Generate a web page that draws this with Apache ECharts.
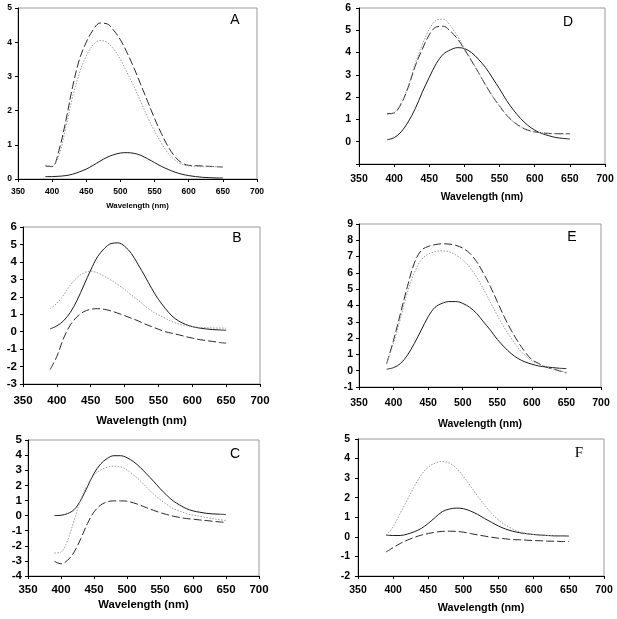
<!DOCTYPE html>
<html><head><meta charset="utf-8">
<script src="https://cdn.jsdelivr.net/npm/echarts@6/dist/echarts.min.js"></script>
<style>html,body{margin:0;padding:0;background:#fff}#c{width:617px;height:619px}</style>
</head><body><div id="c"></div>
<script>
const wavelength = [390,400,410,420,430,440,450,460,470,480,490,500,510,520,530,540,550,560,570,580,590,600,610,620,630,640,650];
const xTicks = [350,400,450,500,550,600,650,700];

const aSolid  = [0.07,0.07,0.08,0.10,0.14,0.21,0.29,0.40,0.52,0.63,0.71,0.76,0.77,0.75,0.69,0.59,0.48,0.37,0.28,0.20,0.14,0.10,0.07,0.05,0.04,0.03,0.03];
const aDashed = [0.38,0.36,0.84,1.70,2.70,3.50,4.00,4.36,4.56,4.54,4.35,4.07,3.68,3.24,2.75,2.26,1.77,1.33,0.94,0.65,0.47,0.40,0.39,0.38,0.37,0.36,0.35];
const aDotted = [0.40,0.38,0.70,1.50,2.40,3.10,3.60,3.92,4.05,4.00,3.80,3.50,3.10,2.70,2.25,1.80,1.40,1.05,0.75,0.55,0.43,0.38,0.37,0.36,0.36,0.36,0.35];

const bSolid  = [0.16,0.33,0.63,1.11,1.81,2.67,3.53,4.29,4.76,5.05,5.09,4.90,4.48,3.85,3.18,2.48,1.85,1.34,0.90,0.61,0.42,0.29,0.21,0.16,0.12,0.10,0.08];
const bDashed = [-2.18,-1.42,-0.37,0.39,0.86,1.15,1.28,1.32,1.28,1.19,1.06,0.92,0.77,0.62,0.44,0.29,0.14,0.00,-0.09,-0.18,-0.28,-0.37,-0.45,-0.51,-0.56,-0.62,-0.66];
const bDotted = [1.32,1.62,2.10,2.67,3.11,3.37,3.47,3.37,3.18,2.95,2.70,2.42,2.10,1.81,1.47,1.19,0.96,0.77,0.58,0.44,0.35,0.29,0.25,0.23,0.21,0.21,0.20];

const cSolid  = [0.00,0.02,0.13,0.40,1.02,1.90,2.79,3.41,3.78,3.96,3.96,3.83,3.56,3.19,2.74,2.28,1.79,1.35,0.97,0.69,0.46,0.31,0.22,0.15,0.11,0.09,0.07];
const cDashed = [-3.03,-3.19,-2.96,-2.41,-1.53,-0.53,0.24,0.69,0.91,0.97,0.97,0.95,0.84,0.69,0.51,0.35,0.20,0.07,-0.04,-0.13,-0.20,-0.24,-0.29,-0.33,-0.38,-0.42,-0.46];
const cDotted = [-2.48,-2.41,-1.64,-0.31,1.06,2.01,2.68,3.01,3.19,3.27,3.23,3.01,2.68,2.30,1.86,1.42,1.06,0.75,0.46,0.29,0.13,0.02,-0.04,-0.13,-0.20,-0.27,-0.33];

const dSolid  = [0.09,0.18,0.44,0.89,1.48,2.22,2.89,3.51,3.93,4.12,4.22,4.18,4.00,3.70,3.33,2.86,2.37,1.85,1.41,1.04,0.74,0.52,0.37,0.27,0.19,0.15,0.12];
const dDashed = [1.26,1.29,1.70,2.44,3.40,4.15,4.80,5.15,5.18,4.96,4.62,4.15,3.63,3.10,2.55,2.04,1.60,1.19,0.89,0.67,0.52,0.44,0.40,0.37,0.36,0.36,0.36];
const dDotted = [1.22,1.30,1.75,2.50,3.50,4.35,5.05,5.45,5.50,5.20,4.75,4.20,3.65,3.10,2.55,2.04,1.60,1.19,0.89,0.67,0.52,0.44,0.40,0.37,0.36,0.35,0.35];

const eSolid  = [0.09,0.19,0.44,0.95,1.67,2.49,3.31,3.89,4.13,4.24,4.24,4.13,3.89,3.52,3.00,2.49,1.92,1.46,1.05,0.75,0.54,0.40,0.29,0.23,0.19,0.15,0.13];
const eDashed = [0.44,1.87,3.52,5.16,6.60,7.38,7.62,7.73,7.79,7.77,7.69,7.52,7.21,6.70,5.98,5.16,4.24,3.31,2.49,1.77,1.16,0.68,0.44,0.23,0.11,-0.01,-0.14];
const eDotted = [0.40,1.70,3.20,4.80,6.00,6.80,7.15,7.30,7.35,7.30,7.10,6.80,6.35,5.75,5.00,4.20,3.40,2.65,2.00,1.40,0.95,0.60,0.42,0.25,0.10,0.00,-0.10];

const fSolid  = [0.09,0.07,0.07,0.14,0.26,0.43,0.69,1.00,1.29,1.42,1.47,1.44,1.32,1.15,0.94,0.74,0.55,0.40,0.29,0.21,0.16,0.12,0.09,0.07,0.05,0.05,0.04];
const fDashed = [-0.77,-0.55,-0.34,-0.17,-0.03,0.09,0.17,0.24,0.28,0.29,0.28,0.24,0.17,0.10,0.04,-0.02,-0.07,-0.10,-0.14,-0.15,-0.17,-0.19,-0.20,-0.22,-0.22,-0.24,-0.24];
const fDotted = [0.09,0.51,1.20,1.88,2.57,3.17,3.56,3.77,3.85,3.77,3.51,3.08,2.60,2.09,1.63,1.20,0.86,0.60,0.40,0.26,0.17,0.12,0.09,0.07,0.05,0.05,0.04];

const xName = 'Wavelength (nm)';
const panelLetters = ['A','B','C','D','E','F'];

const panels = [
  {letter:'A', g:{left:18, top:8, width:239, height:171}, ymin:0, ymax:5, fs:8.5, nfs:7.8, ngap:23, xm:8, ym:6, lx:235, ly:20, lfs:14, serif:false, s:[aSolid,aDashed,aDotted], hideMin:false},
  {letter:'B', g:{left:23, top:227, width:237, height:157}, ymin:-3, ymax:6, fs:11.5, nfs:11.3, ngap:31, xm:11, ym:6, lx:237, ly:238, lfs:14, serif:false, s:[bSolid,bDashed,bDotted], hideMin:false},
  {letter:'C', g:{left:28, top:440, width:231, height:136}, ymin:-4, ymax:5, fs:11.5, nfs:11.3, ngap:23, xm:8, ym:6, lx:235, ly:454, lfs:14, serif:false, s:[cSolid,cDashed,cDotted], hideMin:false},
  {letter:'D', g:{left:359, top:8, width:246, height:156}, ymin:-1, ymax:6, fs:10.5, nfs:10.3, ngap:28, xm:10, ym:8, lx:568, ly:22, lfs:14, serif:false, s:[dSolid,dDashed,dDotted], hideMin:true},
  {letter:'E', g:{left:359, top:224, width:242, height:163}, ymin:-1, ymax:9, fs:10.5, nfs:10.5, ngap:32, xm:11, ym:6, lx:572, ly:237, lfs:14, serif:false, s:[eSolid,eDashed,eDotted], hideMin:false},
  {letter:'F', g:{left:358, top:439, width:246, height:137}, ymin:-2, ymax:5, fs:10.5, nfs:10.8, ngap:27, xm:9, ym:8, lx:579, ly:453, lfs:15, serif:true, s:[fSolid,fDashed,fDotted], hideMin:false}
];

const FONT = '"Liberation Sans", Arial, sans-serif';
const grids = [], xAxes = [], yAxes = [], series = [], graphics = [];
const styles = [
  {color:'#1a1a1a', type:'solid', width:1},
  {color:'#2a2a2a', type:[8,3], width:1},
  {color:'#9a9a9a', type:[1.5,1.5], width:1}
];
panels.forEach((p, i) => {
  grids.push(Object.assign({show:true, borderColor:'#999', borderWidth:1, backgroundColor:'transparent', containLabel:false, outerBoundsMode:'none'}, p.g));
  xAxes.push({
    type:'value', gridIndex:i, min:350, max:700, interval:50,
    name:xName, nameLocation:'middle', nameGap:p.ngap,
    nameTextStyle:{fontFamily:FONT, fontWeight:'bold', fontSize:p.nfs, color:'#000'},
    axisLine:{show:true, onZero:false, lineStyle:{color:'#000', width:1}},
    axisTick:{show:true, inside:false, length:3, lineStyle:{color:'#000'}},
    axisLabel:{fontFamily:FONT, fontWeight:'bold', fontSize:p.fs, color:'#000', margin:p.xm, showMinLabel:true, showMaxLabel:true},
    splitLine:{show:false}
  });
  yAxes.push({
    type:'value', gridIndex:i, min:p.ymin, max:p.ymax, interval:1,
    axisLine:{show:true, onZero:false, lineStyle:{color:'#000', width:1}},
    axisTick:{show:true, inside:false, length:3, lineStyle:{color:'#000'}},
    axisLabel:{fontFamily:FONT, fontWeight:'bold', fontSize:p.fs, color:'#000', margin:p.ym,
      formatter: v => (p.hideMin && v === p.ymin) ? '' : String(v)},
    splitLine:{show:false}
  });
  p.s.forEach((arr, k) => {
    series.push({
      type:'line', xAxisIndex:i, yAxisIndex:i, smooth:0.35, symbol:'none', silent:true,
      lineStyle:styles[k], data: wavelength.map((w, j) => [w, arr[j]])
    });
  });
  graphics.push({
    type:'text', x:p.lx, y:p.ly,
    style:{text:p.letter, fontSize:p.lfs, fontFamily: p.serif ? '"Liberation Serif", "Times New Roman", serif' : FONT,
      fill:'#000', align:'center', verticalAlign:'middle'}
  });
});

const chart = echarts.init(document.getElementById('c'), null, {renderer:'canvas'});
chart.setOption({
  animation:false,
  backgroundColor:'#fff',
  grid:grids, xAxis:xAxes, yAxis:yAxes, series:series, graphic:graphics
});
</script>
</body></html>
